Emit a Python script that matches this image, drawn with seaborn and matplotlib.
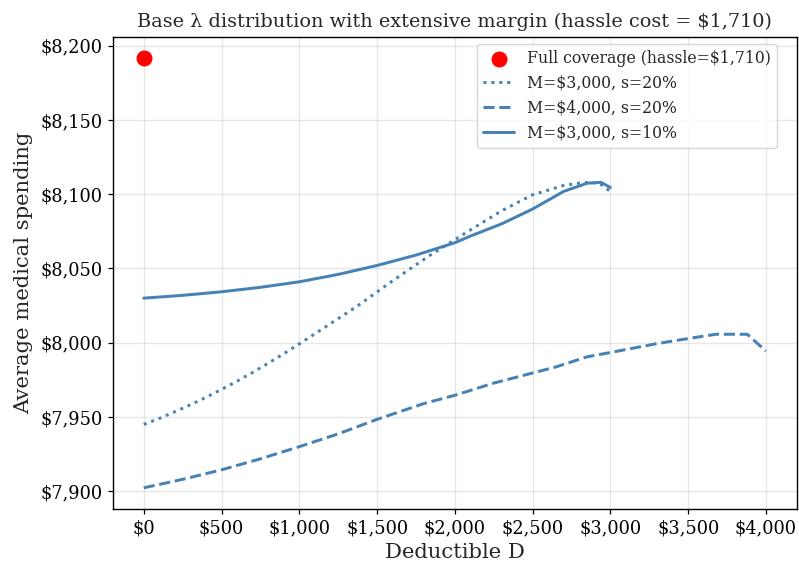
import matplotlib
matplotlib.use("Agg")
import matplotlib.pyplot as plt
import seaborn as sns
from matplotlib.ticker import FuncFormatter

# === Data ===
full_coverage_D = [0]
full_coverage_spend = [8191.6]

d_m3000_s20 = [0, 100, 200, 300, 400, 500, 600, 700, 800, 900, 1000, 1150, 1375, 1600,
               1835, 2075, 2300, 2500, 2700, 2835, 2930, 3000]
y_m3000_s20 = [7945.0, 7949.0, 7953.5, 7958.2, 7963.2, 7968.6, 7974.1, 7980.0, 7986.2, 7992.6,
               7999.2, 8009.4, 8024.8, 8041.7, 8058.5, 8074.3, 8088.8, 8099.6, 8105.9, 8108.0,
               8107.4, 8101.8]

d_m4000_s20 = [0, 250, 500, 750, 1000, 1250, 1500, 1800, 2000, 2250, 2500, 2650, 2850, 3000,
               3300, 3500, 3680, 3880, 4000]
y_m4000_s20 = [7902.3, 7908.0, 7914.4, 7921.8, 7930.0, 7938.6, 7948.4, 7959.0, 7964.6, 7972.8,
               7979.6, 7983.7, 7990.5, 7993.4, 7999.4, 8002.8, 8005.7, 8005.7, 7994.4]

d_m3000_s10 = [0, 250, 500, 750, 1000, 1250, 1500, 1750, 2000, 2100, 2300, 2500, 2700, 2850,
               2940, 3000]
y_m3000_s10 = [8030.0, 8031.9, 8034.3, 8037.3, 8041.0, 8046.0, 8052.0, 8059.0, 8067.3, 8071.8,
               8080.0, 8090.0, 8101.9, 8107.4, 8108.0, 8104.5]

# === Style ===
sns.set_theme(style="whitegrid", rc={
    "axes.edgecolor": "black",
    "axes.linewidth": 1.0,
    "grid.color": "#b0b0b0",
    "grid.alpha": 0.3,
    "xtick.bottom": True,
    "ytick.left": True,
    "xtick.color": "black",
    "ytick.color": "black",
})
plt.rcParams["font.family"] = ["DejaVu Serif"]

fig, ax = plt.subplots(figsize=(7.99, 5.62), dpi=100)
fig.subplots_adjust(left=0.141, right=0.9975, top=0.9347, bottom=0.0938)

color = "#4682B4"
lw = 2.15
ax.scatter(full_coverage_D, full_coverage_spend, s=110, color="red", zorder=5,
           label="Full coverage (hassle=$1,710)")
sns.lineplot(x=d_m3000_s20, y=y_m3000_s20, ax=ax, color=color, linewidth=lw,
             linestyle=":", label="M=$3,000, s=20%")
sns.lineplot(x=d_m4000_s20, y=y_m4000_s20, ax=ax, color=color, linewidth=lw,
             linestyle="--", label="M=$4,000, s=20%")
sns.lineplot(x=d_m3000_s10, y=y_m3000_s10, ax=ax, color=color, linewidth=lw,
             linestyle="-", label="M=$3,000, s=10%")

ax.xaxis.set_major_formatter(FuncFormatter(lambda v, p: f"${v:,.0f}"))
ax.yaxis.set_major_formatter(FuncFormatter(lambda v, p: f"${v:,.0f}"))
ax.set_xticks(range(0, 4001, 500))
ax.tick_params(labelsize=12.8, length=3.8, width=0.9)

ax.set_title("Base λ distribution with extensive margin (hassle cost = $1,710)",
             fontsize=13.9, pad=7)
ax.set_xlabel("Deductible D", fontsize=15.2)
ax.set_ylabel("Average medical spending", fontsize=15.2, labelpad=5)
ax.legend(loc="upper right", bbox_to_anchor=(0.971, 0.985), borderaxespad=0,
          fontsize=11.3, frameon=True, framealpha=0.8, edgecolor="#cccccc")

fig.savefig("out.png", dpi=100)
